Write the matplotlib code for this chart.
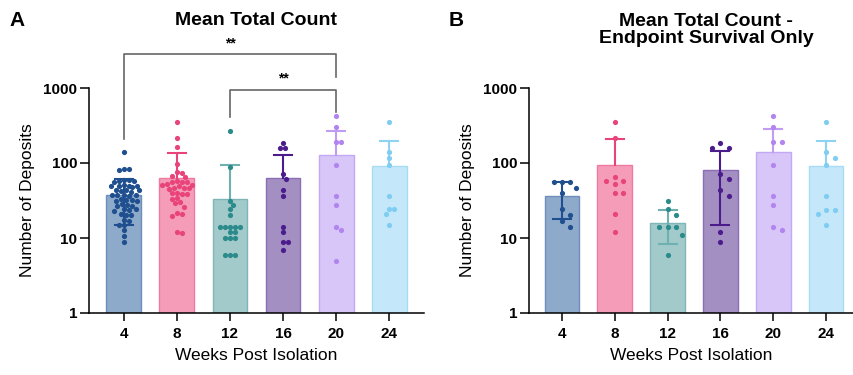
import numpy as np
import matplotlib
matplotlib.use("Agg")
import matplotlib.pyplot as plt
from matplotlib.ticker import FixedLocator, FixedFormatter

plt.rcParams["font.family"] = ["Liberation Sans", "DejaVu Sans"]

weeks = ["4", "8", "12", "16", "20", "24"]

# panel A: all animals
a_mean = [38, 64, 33, 62.5, 128, 91]
a_sd = [23, 73, 61, 65.5, 142, 107]
a_pts = [
    [140, 84, 82, 80, 60, 58, 57, 59, 56, 50, 49, 51, 48, 50, 49,
     43, 42, 44, 41, 43, 37, 38, 36, 37, 38, 32, 33, 31, 32, 31,
     27.5, 28, 27, 26.5, 24, 23.5, 23, 24, 20.5, 20, 21, 17.5, 17,
     15, 14.8, 12.8, 10.6, 8.9],
    [348, 215, 165, 97, 75, 73, 67, 65, 57, 56, 55, 56, 52, 51, 50, 51,
     46, 47, 45, 46, 40, 39, 40, 39, 34, 33.5, 30, 29, 26, 21.5, 21,
     19.6, 12, 11.8],
    [270, 88, 31, 27.5, 24, 20, 14, 14, 14, 14, 14, 12, 12,
     10, 10, 10, 6, 6, 6],
    [183, 157, 157, 71, 62, 43, 36, 14, 12, 8.8, 8.8, 6.9],
    [423, 300, 190, 190, 94, 36, 27.5, 14, 12.8, 4.9],
    [352, 139, 116, 94, 36, 24, 24, 21, 15],
]

# panel B: endpoint survival only
b_mean = [36.5, 93, 16, 80.5, 141, 90]
b_sd = [18.5, 118, 7.8, 65.5, 143, 106]
b_pts = [
    [56, 56, 56, 47, 40, 24, 20, 17, 14],
    [349, 213, 66, 57.5, 57.5, 52.5, 40, 40, 20.7, 11.9],
    [31.4, 24, 20, 14, 14, 14, 11, 6],
    [183, 157, 157, 71, 62, 43, 36, 12, 8.8],
    [423, 300, 190, 190, 94, 36, 27.5, 14, 12.8],
    [349, 139, 116, 94, 36, 23.6, 23.6, 21, 15],
]

dot_col = ["#1f4f8f", "#e8437a", "#2b8a8a", "#4b1d8c", "#b184f0", "#7fcdf2"]
bar_col = ["#8eaacb", "#f59cb8", "#a2cacb", "#a48fc3", "#d8c6f8", "#c4e8fa"]
edge_col = ["#6e8fbb", "#ee7aa0", "#7fb5b5", "#8a70b3", "#c3a8f3", "#a8dcf5"]
err_col = ["#1f4f8f", "#e8437a", "#6fb0b0", "#4b1d8c", "#c09cf3", "#8fd3f3"]


def swarm(vals, d, maxoff, ppd=75.0, ppu=53.0):
    # simple beeswarm in pixel space, returns x offsets in data units
    ys = np.log10(vals) * ppd
    order = np.argsort(-ys)
    placed = []
    xs = np.zeros(len(vals))
    for i in order:
        y = ys[i]
        best, best_gap = 0.0, -1.0
        for k in range(80):
            m = (k + 1) // 2
            off = m * d / 3 * (1 if k % 2 else -1)
            if abs(off) > maxoff:
                break
            gap = min([(off - px) ** 2 + (y - py) ** 2 for px, py in placed] or [1e9])
            if gap >= d * d * 0.999:
                best = off
                break
            if gap > best_gap:
                best, best_gap = off, gap
        placed.append((best, y))
        xs[i] = best
    return xs / ppu


def panel(ax, means, sds, pts, d, xlim):
    x = np.arange(len(weeks))
    ax.bar(x, means, width=0.66, color=bar_col, edgecolor=edge_col,
           linewidth=1.0, zorder=1)
    for i in x:
        lo = means[i] - sds[i]
        hi = means[i] + sds[i]
        ybot = lo if lo > 0 else means[i]
        ax.plot([i, i], [ybot, hi], color=err_col[i], lw=1.5, zorder=2)
        ax.plot([i - 0.17, i + 0.17], [hi, hi], color=err_col[i], lw=1.5, zorder=2)
        if lo > 0:
            ax.plot([i - 0.17, i + 0.17], [lo, lo], color=err_col[i], lw=1.5, zorder=2)
        offs = swarm(pts[i], d, 15.5)
        ax.scatter(i + offs, pts[i], s=14, color=dot_col[i], linewidths=0,
                   zorder=3)
    ax.set_yscale("log")
    ax.set_ylim(1, 1000)
    ax.set_xlim(*xlim)
    ax.yaxis.set_major_locator(FixedLocator([1, 10, 100, 1000]))
    ax.yaxis.set_major_formatter(FixedFormatter(["1", "10", "100", "1000"]))
    ax.yaxis.set_minor_locator(FixedLocator([]))
    ax.set_xticks(x)
    ax.set_xticklabels(weeks)
    for lab in ax.get_xticklabels() + ax.get_yticklabels():
        lab.set_fontweight("bold")
        lab.set_fontsize(11)
    ax.tick_params(axis="y", length=6.5, width=1.1, pad=2)
    ax.tick_params(axis="x", length=6, width=1.1, pad=4)
    for s in ["top", "right"]:
        ax.spines[s].set_visible(False)
    for s in ["left", "bottom"]:
        ax.spines[s].set_linewidth(1.1)
    ax.set_ylabel("Number of Deposits", fontsize=12.5, labelpad=6)
    ax.set_xlabel("Weeks Post Isolation", fontsize=12.5, labelpad=5)


fig = plt.figure(figsize=(8.54, 3.75), dpi=100)
ax1 = fig.add_axes([89 / 854, 62 / 375, 335 / 854, 225 / 375])
ax2 = fig.add_axes([529 / 854, 62 / 375, 324 / 854, 225 / 375])

panel(ax1, a_mean, a_sd, a_pts, 5.0, (-0.66, 5.66))
panel(ax2, b_mean, b_sd, b_pts, 8.5, (-0.625, 5.51))

# significance brackets
ax1.plot([0, 0, 4, 4], [209, 2840, 2840, 1400], color="#666666", lw=1.2,
         clip_on=False)
ax1.text(2, 3950, "**", ha="center", va="center", fontsize=10,
         fontweight="bold")
ax1.plot([2, 2, 4, 4], [410, 940, 940, 480], color="#666666", lw=1.2,
         clip_on=False)
ax1.text(3, 1320, "**", ha="center", va="center", fontsize=10,
         fontweight="bold")

fig.text(256 / 854, 1 - 20.5 / 375, "Mean Total Count", ha="center",
         va="center", fontsize=14, fontweight="bold")
fig.text(706 / 854, 1 - 30 / 375, "Mean Total Count -\nEndpoint Survival Only",
         ha="center", va="center", fontsize=14, fontweight="bold",
         linespacing=1.05)
fig.text(17 / 854, 1 - 20.5 / 375, "A", ha="center", va="center",
         fontsize=15, fontweight="bold")
fig.text(456 / 854, 1 - 20.5 / 375, "B", ha="center", va="center",
         fontsize=15, fontweight="bold")

fig.savefig("out.png", dpi=100)
